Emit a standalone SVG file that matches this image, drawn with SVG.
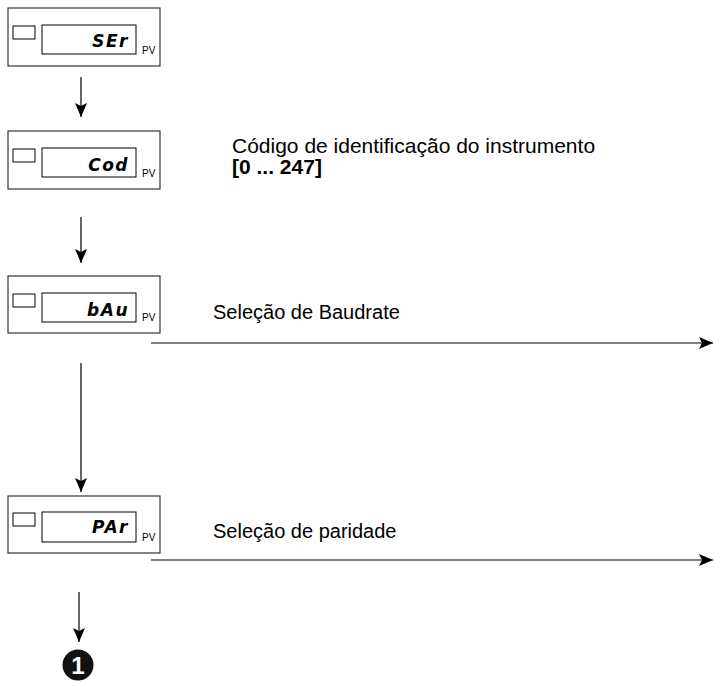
<svg xmlns="http://www.w3.org/2000/svg" width="714" height="682" viewBox="0 0 714 682">
<defs>
<style>
.frame{fill:#fff;stroke:#333;stroke-width:1.2}
.disp{fill:#fff;stroke:#000;stroke-width:1}
.led{fill:#fff;stroke:#000;stroke-width:1}
.seg{font-family:"DejaVu Sans",sans-serif;font-weight:bold;font-style:italic;font-size:17px;letter-spacing:1.5px;fill:#000}
.pv{font-family:"Liberation Sans",Arial,sans-serif;font-size:10px;fill:#000}
.lbl{font-family:"Liberation Sans",Arial,sans-serif;font-size:20px;fill:#000}
.big{font-size:21px}
.b{font-weight:bold}
.conn{stroke:#000;stroke-width:1.2;fill:none}
</style>
<marker id="ah" viewBox="0 0 14 12" refX="14" refY="6" markerWidth="14" markerHeight="12" markerUnits="userSpaceOnUse" orient="auto">
<path d="M0,0 L14,6 L0,12 L3,6 Z" fill="#000"/>
</marker>
</defs>
<rect width="714" height="682" fill="#fff"/>
<g id="node-ser">
<rect class="frame" x="8" y="8" width="152" height="58"/>
<rect class="led" x="13" y="26" width="22" height="13"/>
<rect class="disp" x="42" y="25" width="94" height="29"/>
<text class="seg" x="129" y="47" text-anchor="end">SEr</text>
<text class="pv" x="142" y="54">PV</text>
</g>
<g id="node-cod">
<rect class="frame" x="8" y="131" width="152" height="58"/>
<rect class="led" x="13" y="149" width="22" height="13"/>
<rect class="disp" x="42" y="148" width="94" height="29"/>
<text class="seg" x="129" y="171" text-anchor="end">Cod</text>
<text class="pv" x="142" y="177">PV</text>
</g>
<g id="node-bau">
<rect class="frame" x="8" y="276" width="152" height="57"/>
<rect class="led" x="13" y="294" width="22" height="13"/>
<rect class="disp" x="42" y="293" width="94" height="29"/>
<text class="seg" x="129" y="316" text-anchor="end">bAu</text>
<text class="pv" x="142" y="321">PV</text>
</g>
<g id="node-par">
<rect class="frame" x="8" y="496" width="152" height="57"/>
<rect class="led" x="13" y="513" width="22" height="13"/>
<rect class="disp" x="42" y="512" width="94" height="30"/>
<text class="seg" x="129" y="533" text-anchor="end">PAr</text>
<text class="pv" x="142" y="541">PV</text>
</g>
<g id="labels">
<text class="lbl big" x="232" y="153">Código de identificação do instrumento</text>
<text class="lbl big b" x="232" y="174">[0 ... 247]</text>
<text class="lbl" x="213" y="319">Seleção de Baudrate</text>
<text class="lbl" x="213" y="538">Seleção de paridade</text>
</g>
<g id="node-1">
<circle cx="78" cy="665" r="15.5" fill="#111"/>
<text x="78" y="673.5" text-anchor="middle" font-family="Liberation Sans,Arial,sans-serif" font-weight="bold" font-size="24" fill="#fff">1</text>
</g>
<g id="connectors">
<line class="conn" x1="81" y1="77" x2="81" y2="117" marker-end="url(#ah)"/>
<line class="conn" x1="81" y1="217" x2="81" y2="263" marker-end="url(#ah)"/>
<line class="conn" x1="81" y1="363" x2="81" y2="492" marker-end="url(#ah)"/>
<line class="conn" x1="79" y1="592" x2="79" y2="642" marker-end="url(#ah)"/>
<line class="conn" x1="151" y1="343" x2="713" y2="343" marker-end="url(#ah)"/>
<line class="conn" x1="151" y1="560" x2="713" y2="560" marker-end="url(#ah)"/>
</g>
</svg>
